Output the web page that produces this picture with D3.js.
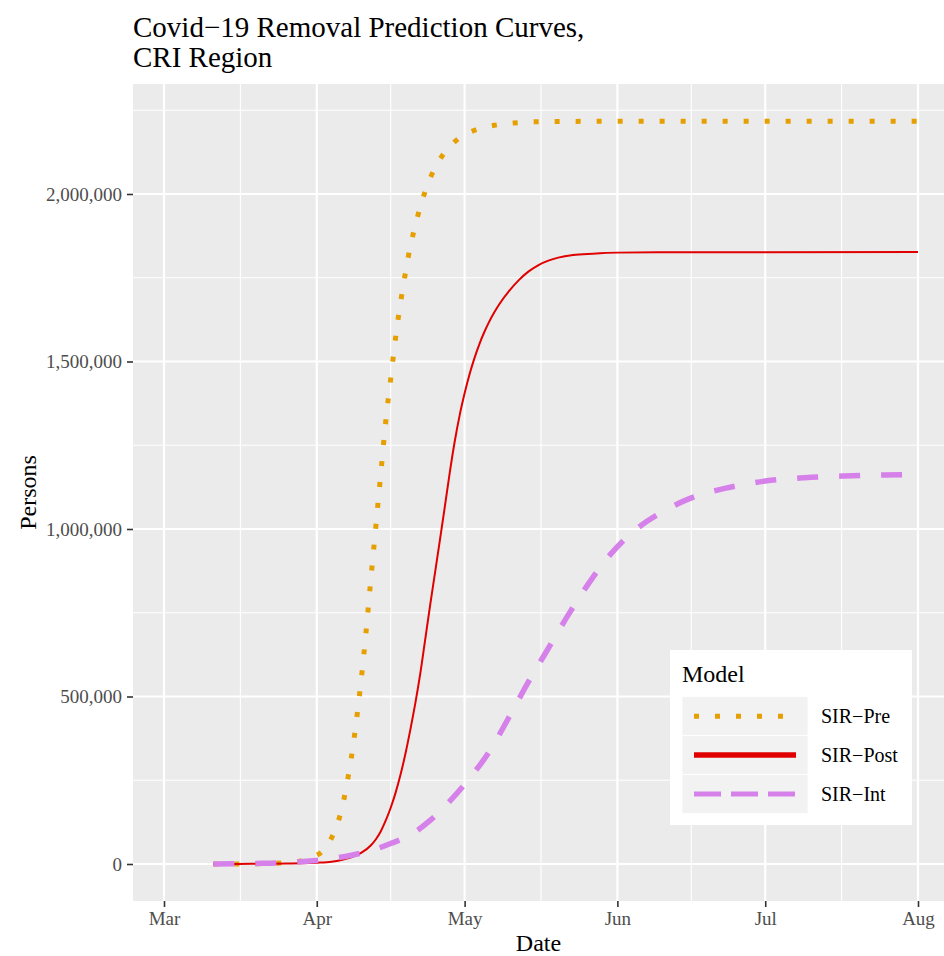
<!DOCTYPE html>
<html><head><meta charset="utf-8">
<script src="https://cdn.jsdelivr.net/npm/d3@7"></script>
<style>
body{margin:0;background:#fff;}
svg{display:block;font-family:"Liberation Serif","Times New Roman",serif;}
</style>
</head><body>
<svg id="chart" width="944" height="956"></svg>
<script>
// ---- data ----
const seriesNames = ["SIR-Pre", "SIR-Post", "SIR-Int"];
const legendLabels = ["SIR\u2212Pre", "SIR\u2212Post", "SIR\u2212Int"];

const preDates = ["2020-03-11","2020-03-21","2020-03-26","2020-03-29","2020-03-31","2020-04-02","2020-04-03","2020-04-04","2020-04-05","2020-04-06","2020-04-07","2020-04-08","2020-04-09","2020-04-10","2020-04-11","2020-04-12","2020-04-13","2020-04-14","2020-04-15","2020-04-16","2020-04-17","2020-04-18","2020-04-19","2020-04-20","2020-04-21","2020-04-22","2020-04-23","2020-04-24","2020-04-25","2020-04-26","2020-04-27","2020-04-28","2020-04-29","2020-04-30","2020-05-02","2020-05-04","2020-05-07","2020-05-11","2020-05-16","2020-05-30","2020-08-01"];
const preValues = [0,1000,4000,10000,20000,36000,52000,78000,112000,160000,230000,316000,423000,548000,693000,855000,1010000,1167000,1322000,1448000,1572000,1676000,1765000,1845000,1906000,1962000,2008000,2047000,2078000,2104000,2125000,2142000,2156000,2168000,2184000,2195000,2205000,2212000,2216000,2217000,2217000];

const postDates = ["2020-03-11","2020-03-16","2020-03-21","2020-03-26","2020-03-29","2020-04-01","2020-04-04","2020-04-06","2020-04-08","2020-04-10","2020-04-12","2020-04-13","2020-04-14","2020-04-15","2020-04-16","2020-04-17","2020-04-18","2020-04-19","2020-04-20","2020-04-21","2020-04-22","2020-04-23","2020-04-24","2020-04-25","2020-04-26","2020-04-27","2020-04-28","2020-04-29","2020-04-30","2020-05-01","2020-05-02","2020-05-03","2020-05-04","2020-05-05","2020-05-06","2020-05-07","2020-05-08","2020-05-10","2020-05-12","2020-05-14","2020-05-16","2020-05-18","2020-05-20","2020-05-23","2020-05-27","2020-06-01","2020-06-09","2020-08-01"];
const postValues = [0,300,700,1500,2200,4000,7000,12000,20000,33000,56000,74000,98000,130000,168000,213000,267000,330000,402000,480000,568000,670000,772000,870000,968000,1068000,1170000,1262000,1340000,1405000,1462000,1510000,1552000,1588000,1619000,1646000,1670000,1710000,1743000,1769000,1788000,1801000,1810000,1818000,1822000,1825000,1826000,1827000];

const intDates = ["2020-03-11","2020-03-21","2020-03-26","2020-03-30","2020-04-03","2020-04-08","2020-04-12","2020-04-16","2020-04-20","2020-04-24","2020-04-28","2020-05-02","2020-05-06","2020-05-10","2020-05-14","2020-05-18","2020-05-22","2020-05-26","2020-05-30","2020-06-03","2020-06-07","2020-06-11","2020-06-15","2020-06-19","2020-06-23","2020-06-27","2020-07-01","2020-07-09","2020-07-17","2020-07-25","2020-08-01"];
const intValues = [0,2000,4000,8000,14000,26000,40000,61000,87000,130000,188000,256000,335000,438000,545000,644000,743000,834000,914000,976000,1023000,1058000,1087000,1107000,1122000,1134000,1143000,1153000,1158000,1161000,1163000];

const xTickDates = ["2020-03-01","2020-04-01","2020-05-01","2020-06-01","2020-07-01","2020-08-01"];
const xTickLabels = ["Mar","Apr","May","Jun","Jul","Aug"];
const xMinorDates = ["2020-03-16T12:00","2020-04-16","2020-05-16T12:00","2020-06-16","2020-07-16T12:00"];
const yTicks = [0, 500000, 1000000, 1500000, 2000000];
const yMinor = [250000, 750000, 1250000, 1750000, 2250000];

// ---- layout ----
const svg = d3.select("#chart");
const panel = {left: 133, right: 944, top: 84, bottom: 901};
const parse = d3.utcParse("%Y-%m-%d");
const parseT = d3.utcParse("%Y-%m-%dT%H:%M");
const pd = s => parse(s) || parseT(s);

const x = d3.scaleUtc().domain([pd("2020-03-01"), pd("2020-08-01")]).range([164, 918]);
const y = d3.scaleLinear().domain([0, 2000000]).range([864, 194]);

// panel background
svg.append("rect").attr("x", panel.left).attr("y", panel.top)
  .attr("width", panel.right - panel.left).attr("height", panel.bottom - panel.top)
  .attr("fill", "#EBEBEB");

const grid = svg.append("g");
grid.selectAll(".ymin").data(yMinor).enter().append("line")
  .attr("x1", panel.left).attr("x2", panel.right)
  .attr("y1", d => y(d)).attr("y2", d => y(d))
  .attr("stroke", "#fff").attr("stroke-width", 1.1);
grid.selectAll(".xmin").data(xMinorDates).enter().append("line")
  .attr("y1", panel.top).attr("y2", panel.bottom)
  .attr("x1", d => x(pd(d))).attr("x2", d => x(pd(d)))
  .attr("stroke", "#fff").attr("stroke-width", 1.1);
grid.selectAll(".ymaj").data(yTicks).enter().append("line")
  .attr("x1", panel.left).attr("x2", panel.right)
  .attr("y1", d => y(d)).attr("y2", d => y(d))
  .attr("stroke", "#fff").attr("stroke-width", 2.2);
grid.selectAll(".xmaj").data(xTickDates).enter().append("line")
  .attr("y1", panel.top).attr("y2", panel.bottom)
  .attr("x1", d => x(pd(d))).attr("x2", d => x(pd(d)))
  .attr("stroke", "#fff").attr("stroke-width", 2.2);

// axes
const xAxis = d3.axisBottom(x).tickValues(xTickDates.map(pd))
  .tickFormat((d, i) => xTickLabels[i]).tickSize(6).tickPadding(5);
const gx = svg.append("g").attr("transform", `translate(0,${panel.bottom})`).call(xAxis);
gx.select(".domain").remove();
gx.selectAll(".tick line").attr("stroke", "#333").attr("stroke-width", 1.6);
gx.selectAll(".tick text").attr("fill", "#4D4D4D").attr("font-size", 19)
  .attr("font-family", "Liberation Serif, Times New Roman, serif");

const yAxis = d3.axisLeft(y).tickValues(yTicks).tickFormat(d3.format(",")).tickSize(6).tickPadding(5);
const gy = svg.append("g").attr("transform", `translate(${panel.left},0)`).call(yAxis);
gy.select(".domain").remove();
gy.selectAll(".tick line").attr("stroke", "#333").attr("stroke-width", 1.6);
gy.selectAll(".tick text").attr("fill", "#4D4D4D").attr("font-size", 19)
  .attr("font-family", "Liberation Serif, Times New Roman, serif");

// lines
const series = [
  {dates: preDates, values: preValues, color: "#E69F00", width: 5, dash: "5 16"},
  {dates: postDates, values: postValues, color: "#E00000", width: 2, dash: null},
  {dates: intDates, values: intValues, color: "#D680EA", width: 5.5, dash: "21 21"}
];
const line = d3.line().x(d => x(d[0])).y(d => y(d[1])).curve(d3.curveMonotoneX);
svg.append("clipPath").attr("id", "clipP").append("rect")
  .attr("x", panel.left).attr("y", panel.top)
  .attr("width", panel.right - panel.left).attr("height", panel.bottom - panel.top);
const gl = svg.append("g").attr("clip-path", "url(#clipP)");
series.forEach(s => {
  const pts = s.dates.map((d, i) => [pd(d), s.values[i]]);
  gl.append("path").attr("d", line(pts)).attr("fill", "none")
    .attr("stroke", s.color).attr("stroke-width", s.width)
    .attr("stroke-dasharray", s.dash).attr("stroke-linecap", "butt")
    .attr("stroke-linejoin", "round");
});

// titles
svg.append("text").attr("x", 133).attr("y", 37).attr("font-size", 29).attr("fill", "#000")
  .text("Covid\u221219 Removal Prediction Curves,");
svg.append("text").attr("x", 133).attr("y", 67).attr("font-size", 29).attr("fill", "#000")
  .text("CRI Region");
svg.append("text").attr("x", (panel.left + panel.right) / 2).attr("y", 951)
  .attr("text-anchor", "middle").attr("font-size", 24).attr("fill", "#000").text("Date");
svg.append("text").attr("transform", `translate(36,${(panel.top + panel.bottom) / 2}) rotate(-90)`)
  .attr("text-anchor", "middle").attr("font-size", 24).attr("fill", "#000").text("Persons");

// legend
const lg = svg.append("g").attr("transform", "translate(670,650)");
lg.append("rect").attr("width", 242).attr("height", 175).attr("fill", "#fff");
lg.append("text").attr("x", 12).attr("y", 32).attr("font-size", 24).attr("fill", "#000").text("Model");
const keyH = 38.9;
series.forEach((s, i) => {
  const ky = 46.7 + i * keyH;
  lg.append("rect").attr("x", 12).attr("y", ky).attr("width", 126).attr("height", keyH)
    .attr("fill", "#F2F2F2").attr("stroke", "#fff").attr("stroke-width", 0.8);
  lg.append("line").attr("x1", 24).attr("x2", 126).attr("y1", ky + keyH / 2).attr("y2", ky + keyH / 2)
    .attr("stroke", s.color).attr("stroke-width", i === 1 ? 5.5 : 5)
    .attr("stroke-dasharray", i === 0 ? "5 16" : (i === 2 ? "27 10" : null));
  lg.append("text").attr("x", 151).attr("y", ky + keyH / 2 + 6.7).attr("font-size", 20)
    .attr("fill", "#000").text(legendLabels[i]);
});
</script>
</body></html>
